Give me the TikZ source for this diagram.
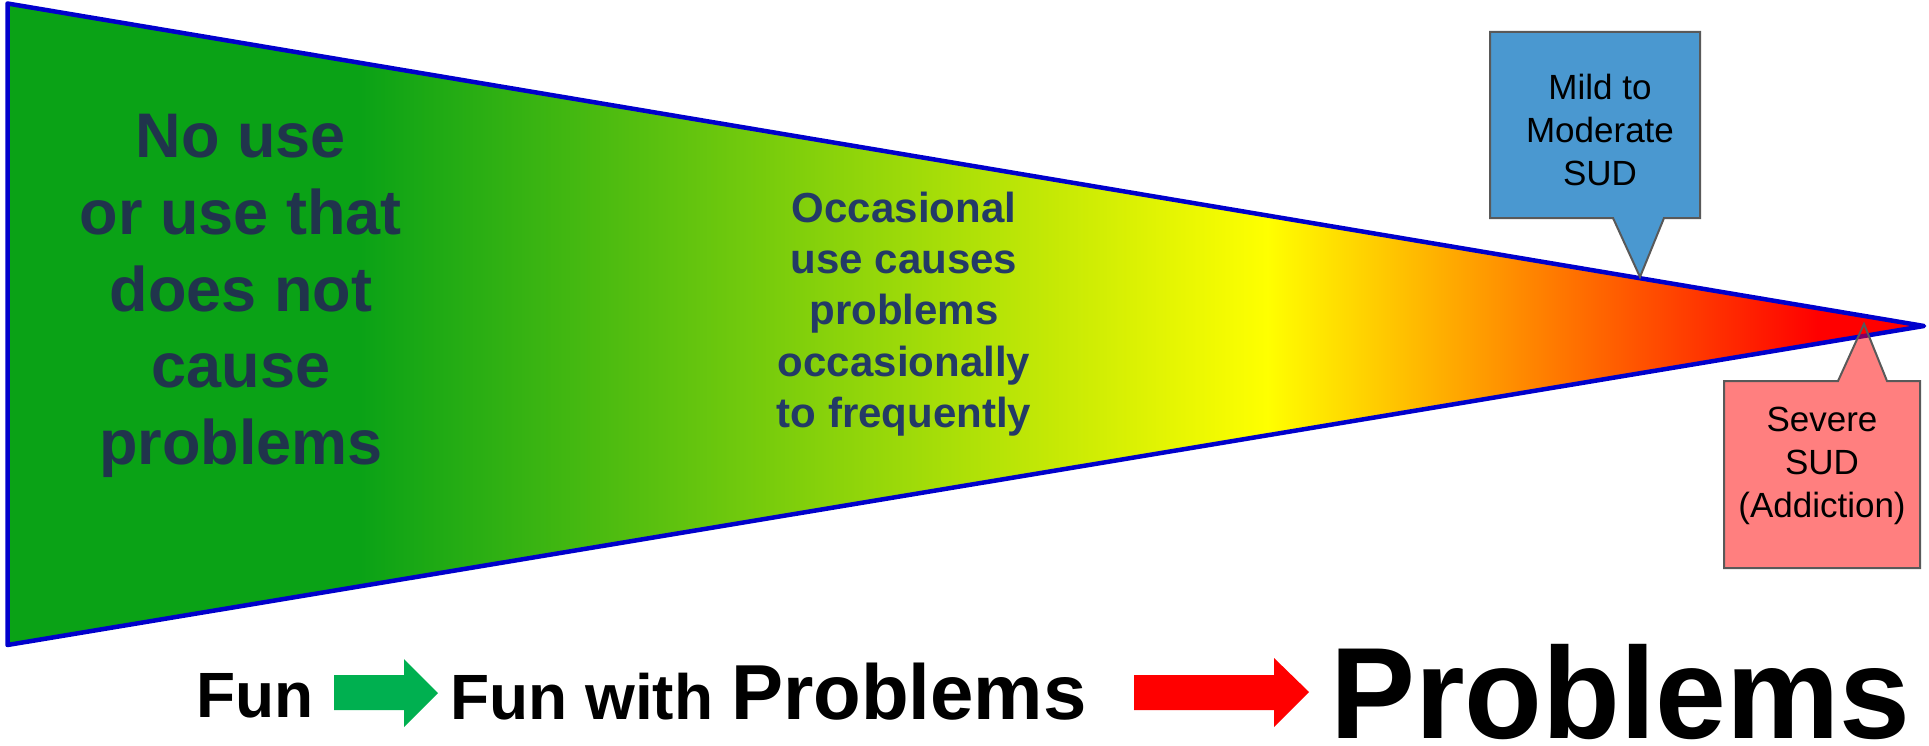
\documentclass[tikz,border=0pt]{standalone}
\usepackage{fontspec}
\setmainfont{Liberation Sans}
\usepackage{graphicx}
\definecolor{gA}{HTML}{0AA216}
\definecolor{yel}{HTML}{FFFF00}
\definecolor{rd}{HTML}{FF0000}
\definecolor{triblue}{HTML}{0000CC}
\definecolor{calloutgray}{HTML}{595959}
\definecolor{calloutblue}{HTML}{4A98D0}
\definecolor{txtA}{HTML}{20344C}
\definecolor{txtB}{HTML}{233A66}
\definecolor{arrgreen}{HTML}{00B050}
\begin{document}
\begin{tikzpicture}[x=1pt,y=-1pt,
  tri/.style={draw=triblue, line width=4.5pt, line join=round},
  callout/.style={draw=calloutgray, line width=2pt, line join=miter},
  lbl/.style={inner sep=0pt, align=center},
  blockarrow/.style={draw=none}]
\useasboundingbox (0,0) rectangle (1929,746);
\coordinate (tl) at (7.5,3.5);
\coordinate (bl) at (7.5,645);
\coordinate (tip) at (1924,326);
\begin{scope}
  \clip (tl) -- (tip) -- (bl) -- cycle;
  \fill[gA] (0,0) rectangle (361,650);
  \shade[left color=gA, right color=yel] (360,0) rectangle (1268,650);
  \shade[left color=yel, right color=rd] (1267,0) rectangle (1818,650);
  \fill[rd] (1817,0) rectangle (1930,650);
\end{scope}
\draw[tri] (tl) -- (tip) -- (bl) -- cycle;

\node[lbl, text=txtA, font=\fontsize{63}{76.7}\selectfont\bfseries] (nouse) at (241,296)
  {No use\\or use that\\does not\\cause\\problems};
\node[lbl, text=txtB, font=\fontsize{42}{51.3}\selectfont\bfseries] (occ) at (904,314)
  {Occasional\\use causes\\problems\\occasionally\\to frequently};

\draw[callout, fill=calloutblue] (1490,32) -- (1700,32) -- (1700,218) -- (1664,218)
  -- (1640,277) -- (1613,218) -- (1490,218) -- cycle;
\node[lbl, font=\fontsize{35}{43}\selectfont] (mild) at (1600,130) {Mild to\\Moderate\\SUD};

\draw[callout, fill=rd, fill opacity=0.5] (1724,381) -- (1838,381) -- (1864,324)
  -- (1887,381) -- (1920,381) -- (1920,568) -- (1724,568) -- cycle;
\node[lbl, font=\fontsize{35}{43}\selectfont] (severe) at (1822,466) {Severe\\SUD\\(Addiction)};

\node[lbl, anchor=base west, font=\fontsize{64}{76}\selectfont\bfseries] (fun) at (196,717) {Fun};
\fill[arrgreen] (334,675) -- (404,675) -- (404,659) -- (438,693) -- (404,727) -- (404,710) -- (334,710) -- cycle;
\node[lbl, anchor=base west, font=\fontsize{64}{76}\selectfont\bfseries] (funwith) at (450,719) {Fun with};
\node[lbl, anchor=base west, font=\fontsize{78}{90}\selectfont\bfseries] (probs) at (731,719) {Problems};
\fill[rd] (1134,675) -- (1274,675) -- (1274,658) -- (1309,692) -- (1274,727) -- (1274,710) -- (1134,710) -- cycle;
\node[lbl, anchor=base west, font=\fontsize{130}{150}\selectfont\bfseries] (bigprobs) at (1330,738) {\scalebox{0.98}[1]{Problems}};
\end{tikzpicture}
\end{document}
